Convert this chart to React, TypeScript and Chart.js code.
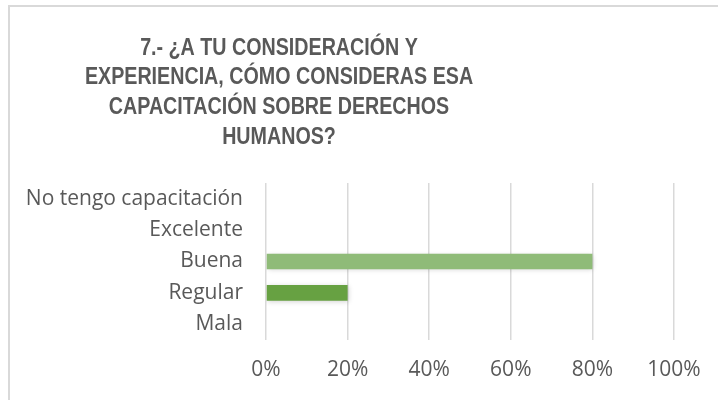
import React, { useEffect, useRef } from "react";
import { Chart, registerables } from "chart.js";

Chart.register(...registerables);

const titleLines = [
  "7.- ¿A TU CONSIDERACIÓN Y",
  "EXPERIENCIA, CÓMO CONSIDERAS ESA",
  "CAPACITACIÓN SOBRE DERECHOS",
  "HUMANOS?",
];
const categories = ["No tengo capacitación", "Excelente", "Buena", "Regular", "Mala"];
const values = [0, 0, 0.8, 0.2, 0];
const barColors = ["#4f7d33", "#b5d3a4", "#8fbb78", "#67a142", "#3d6b22"];
const tickValues = [0, 0.2, 0.4, 0.6, 0.8, 1];

const frameAndTitle = {
  id: "frameAndTitle",
  beforeDraw(chart: any) {
    const ctx = chart.ctx;
    ctx.save();
    ctx.fillStyle = "#ffffff";
    ctx.fillRect(0, 0, chart.width, chart.height);
    ctx.strokeStyle = "#d9d9d9";
    ctx.lineWidth = 2;
    ctx.strokeRect(9, 6, chart.width + 20, chart.height + 20);
    ctx.restore();
  },
  afterDraw(chart: any) {
    const ctx = chart.ctx;
    ctx.save();
    ctx.fillStyle = "#595959";
    ctx.font = 'bold 24px "Liberation Sans", Arial, sans-serif';
    ctx.textAlign = "center";
    ctx.textBaseline = "middle";
    const cx = 279;
    ctx.translate(cx, 0);
    ctx.scale(0.82, 1);
    titleLines.forEach((line, i) => {
      ctx.fillText(line, 0, 48 + i * 29.7);
    });
    ctx.restore();
  },
};

const barShadow = {
  id: "barShadow",
  beforeDatasetDraw(chart: any) {
    const ctx = chart.ctx;
    ctx.save();
    ctx.shadowColor = "rgba(0,0,0,0.18)";
    ctx.shadowBlur = 5;
    ctx.shadowOffsetX = 1;
    ctx.shadowOffsetY = 1;
  },
  afterDatasetDraw(chart: any) {
    chart.ctx.restore();
  },
};

export default function App() {
  const ref = useRef<HTMLCanvasElement>(null);
  useEffect(() => {
    if (!ref.current) return;
    const font = { family: '"Open Sans", sans-serif', size: 21 };
    const chart = new Chart(ref.current, {
      type: "bar",
      data: {
        labels: categories,
        datasets: [
          {
            data: values,
            backgroundColor: barColors,
            categoryPercentage: 1,
            barPercentage: 0.5,
            borderWidth: 0,
          },
        ],
      },
      options: {
        indexAxis: "y",
        animation: false,
        responsive: false,
        layout: { padding: { top: 183, right: 44, left: 0, bottom: 0 } },
        plugins: { legend: { display: false }, tooltip: { enabled: false }, title: { display: false } },
        scales: {
          x: {
            min: 0,
            max: 1,
            afterBuildTicks: (scale: any) => {
              scale.ticks = tickValues.map((v) => ({ value: v }));
            },
            afterFit: (scale: any) => {
              scale.height = 60;
            },
            ticks: {
              color: "#595959",
              font,
              padding: 17,
              callback: (v: any) => Math.round(Number(v) * 100) + "%",
            },
            grid: { color: "#d9d9d9", lineWidth: 1.5, drawTicks: false },
            border: { display: false },
          },
          y: {
            afterFit: (scale: any) => {
              scale.width = 266;
            },
            ticks: { color: "#595959", font, padding: 23 },
            grid: { display: false, drawTicks: false },
            border: { display: false },
          },
        },
      },
      plugins: [frameAndTitle, barShadow],
    });
    return () => chart.destroy();
  }, []);
  return (
    <canvas
      ref={ref}
      width={718}
      height={400}
      style={{ position: "fixed", left: 0, top: 0, width: 718, height: 400 }}
    />
  );
}
